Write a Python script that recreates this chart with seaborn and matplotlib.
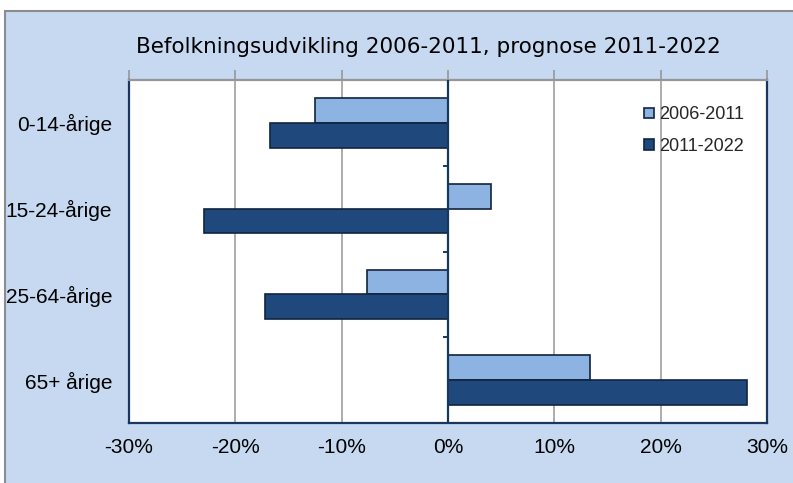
import matplotlib
matplotlib.use("Agg")
import matplotlib.pyplot as plt
import matplotlib.patches as mpatches
import seaborn as sns
import pandas as pd

categories = ["0-14-årige", "15-24-årige", "25-64-årige", "65+ årige"]
series_names = ["2006-2011", "2011-2022"]
values_2006_2011 = [-12.5, 4.0, -7.6, 13.4]
values_2011_2022 = [-16.7, -22.9, -17.2, 28.1]
x_ticks = [-30, -20, -10, 0, 10, 20, 30]
x_tick_labels = ["-30%", "-20%", "-10%", "0%", "10%", "20%", "30%"]
title = "Befolkningsudvikling 2006-2011, prognose 2011-2022"

df = pd.DataFrame({
    "cat": categories * 2,
    "val": values_2006_2011 + values_2011_2022,
    "period": [series_names[0]] * 4 + [series_names[1]] * 4,
})

sns.set_theme(style="white")
plt.rcParams["font.family"] = ["Liberation Sans", "DejaVu Sans"]

BG = "#C6D9F1"
NAVY = "#17375E"
GRID = "#969696"
light = "#8DB3E2"
dark = "#1F497D"

fig = plt.figure(figsize=(7.93, 4.83), dpi=100, facecolor="white")
panel = mpatches.Rectangle((4.5 / 793, -0.01), 1.0, 1 - 10.5 / 483 + 0.01,
                           transform=fig.transFigure, facecolor=BG,
                           edgecolor="#8C8C8C", linewidth=1.5, zorder=-5)
fig.patches.append(panel)

ax = fig.add_axes([129 / 793, 1 - 423 / 483, (767 - 129) / 793, (423 - 80) / 483])
ax.set_zorder(2)
ax.set_facecolor("white")

sns.barplot(data=df, y="cat", x="val", hue="period", orient="h",
            palette=[light, dark], width=0.58, edgecolor="#10253F",
            linewidth=1.2, ax=ax, zorder=3, saturation=1)

ax.set_xlim(-30, 30)
ax.set_ylim(3.5, -0.5)
ax.set_xticks(x_ticks)
ax.set_xticklabels(x_tick_labels, fontsize=15, color="black")
ax.set_xlabel("")
ax.set_ylabel("")
for x in [-20, -10, 10, 20]:
    ax.axvline(x, color=GRID, lw=1.1, zorder=1)
ax.axvline(0, color=NAVY, lw=1.6, zorder=4)
ax.hlines([0.5, 1.5, 2.5], -0.5, 0, color=NAVY, lw=1.4, zorder=4)

ax.tick_params(axis="x", top=True, bottom=False, labeltop=False, labelbottom=True,
               direction="out", length=7, width=1.2, color=GRID, pad=4)
ax.tick_params(axis="y", left=False, length=0, pad=12, labelsize=15, labelcolor="black")

for side in ["left", "right", "bottom"]:
    ax.spines[side].set_color(NAVY)
    ax.spines[side].set_linewidth(1.6)
ax.spines["top"].set_color(GRID)
ax.spines["top"].set_linewidth(1.6)

handles, labels = ax.get_legend_handles_labels()
ax.legend(handles, labels, loc="upper left", bbox_to_anchor=(0.807, 0.923),
          frameon=False, fontsize=13, handlelength=0.55, handleheight=0.55,
          handletextpad=0.3, labelspacing=0.8, borderpad=0, borderaxespad=0)

fig.text(428 / 793, 1 - 47 / 483, title, ha="center", va="center",
         fontsize=15.5, family="DejaVu Sans", color="black")

fig.savefig("out.png", dpi=100, facecolor="white")
